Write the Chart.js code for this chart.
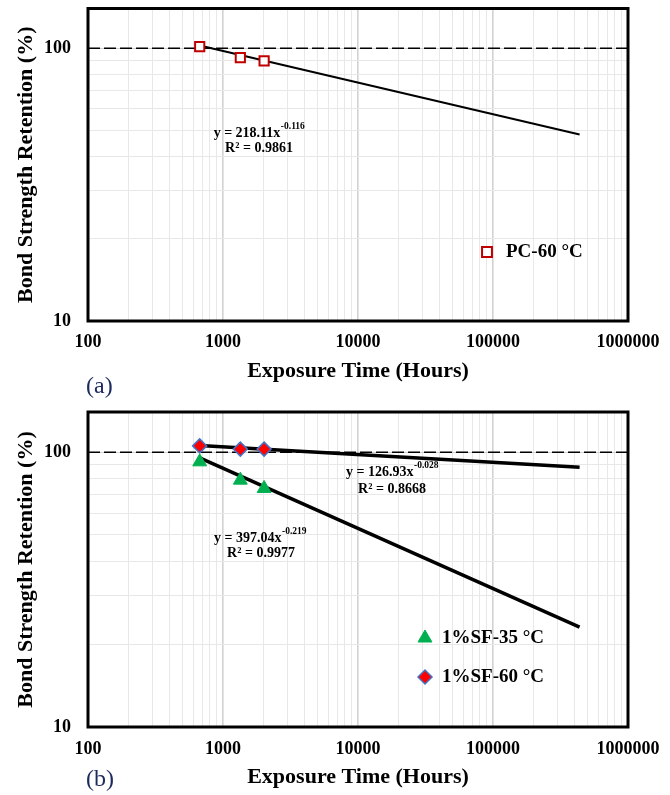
<!DOCTYPE html>
<html>
<head>
<meta charset="utf-8">
<script src="https://cdn.jsdelivr.net/npm/chart.js@4.4.1/dist/chart.umd.min.js"></script>
<style>
  html, body { margin: 0; padding: 0; background: #fff; }
  canvas { display: block; }
</style>
</head>
<body>
<canvas id="chart-a" width="670" height="400"></canvas>
<canvas id="chart-b" width="670" height="395"></canvas>
<script>
// values (hours of exposure, % retention)
const hours = [672, 1344, 2016];
const pc60 = [101.5, 92.4, 89.9];
const sf35 = [92.2, 79.1, 73.8];
const sf60 = [105.4, 102.6, 102.6];

// power-law trend lines: straight on log-log, so two end points each
const trendHours = [672, 438000];
const pc60Trend = [102.5, 48.3];
const sf35Trend = [95.4, 23.1];
const sf60Trend = [105.8, 88.2];

// 100 % reference line
const refHours = [100, 1000000];
const refLevel = [100, 100];

// tick labels
const xLabels = [100, 1000, 10000, 100000, 1000000];
const yLabels = [10, 100];

const SERIF = '"Liberation Serif", "Times New Roman", serif';
Chart.defaults.font.family = SERIF;
Chart.defaults.color = '#000';

// grid positions for a log axis: 1..9 in each decade
function logGrid(from, to) {
  const out = [];
  for (let d = from; d < to; d *= 10) {
    for (let k = 1; k < 10; k++) out.push(d * k);
  }
  out.push(to);
  return out;
}
const xGrid = logGrid(100, 1000000);
const yGrid = logGrid(10, 100);

const isMajor = v => xLabels.includes(v) || yLabels.includes(v);
const pts = (xs, ys) => xs.map((x, i) => ({ x, y: ys[i] }));

function drawEquation(ctx, cx, cy, main, sup) {
  ctx.font = 'bold 14px ' + SERIF;
  const w1 = ctx.measureText(main).width;
  ctx.font = 'bold 9.5px ' + SERIF;
  const w2 = sup ? ctx.measureText(sup).width : 0;
  const x0 = cx - (w1 + w2) / 2;
  ctx.textAlign = 'left';
  ctx.textBaseline = 'middle';
  ctx.fillStyle = '#000';
  ctx.font = 'bold 14px ' + SERIF;
  ctx.fillText(main, x0, cy);
  if (sup) {
    ctx.font = 'bold 9.5px ' + SERIF;
    ctx.fillText(sup, x0 + w1 + 0.5, cy - 6);
  }
}

function notesPlugin(cfg) {
  return {
    id: 'notes',
    afterDraw(chart) {
      const ctx = chart.ctx;
      const a = chart.chartArea;
      ctx.save();
      // plot frame
      ctx.strokeStyle = '#000';
      ctx.lineWidth = 3;
      ctx.strokeRect(a.left, a.top, a.right - a.left, a.bottom - a.top);
      // trend equations
      cfg.equations.forEach(e => drawEquation(ctx, e.x, e.y, e.main, e.sup));
      // legend inside the plot
      cfg.legend.forEach(l => {
        ctx.fillStyle = l.fill;
        ctx.strokeStyle = l.stroke;
        ctx.lineWidth = l.borderWidth;
        Chart.helpers.drawPoint(ctx, { pointStyle: l.style, radius: l.radius, rotation: 0, borderWidth: l.borderWidth }, l.x, l.y);
        ctx.fillStyle = '#000';
        ctx.font = 'bold 19px ' + SERIF;
        ctx.textAlign = 'left';
        ctx.textBaseline = 'middle';
        ctx.fillText(l.label, l.x + l.gap, l.y);
      });
      // panel letter
      ctx.fillStyle = '#1c2a5e';
      ctx.font = '24px ' + SERIF;
      ctx.textAlign = 'left';
      ctx.textBaseline = 'middle';
      ctx.fillText(cfg.letter, 86, cfg.letterY);
      ctx.restore();
    }
  };
}

function makeChart(id, cfg) {
  return new Chart(document.getElementById(id), {
    type: 'scatter',
    data: { datasets: cfg.datasets },
    options: {
      responsive: false,
      animation: false,
      layout: { padding: { top: cfg.top, right: 42, bottom: 0, left: 0 } },
      plugins: { legend: { display: false }, tooltip: { enabled: false } },
      scales: {
        x: {
          type: 'logarithmic', min: 100, max: 1000000,
          border: { display: false },
          afterBuildTicks: s => { s.ticks = xGrid.map(v => ({ value: v })); },
          afterFit: s => { s.height = cfg.xHeight; s.paddingLeft = 0; s.paddingRight = 0; },
          grid: {
            drawTicks: false,
            color: c => (c.tick && isMajor(c.tick.value)) ? '#d2d2d2' : '#e8e8e8',
            lineWidth: c => (c.tick && isMajor(c.tick.value)) ? 1.6 : 1
          },
          ticks: {
            autoSkip: false, maxRotation: 0, padding: cfg.xTickPad,
            font: { size: 18, weight: 'bold' },
            callback: v => xLabels.includes(v) ? String(v) : ''
          },
          title: {
            display: true, text: 'Exposure Time (Hours)',
            font: { size: 22, weight: 'bold' },
            padding: { top: 0, bottom: cfg.xTitlePad }
          }
        },
        y: {
          type: 'logarithmic', min: 10, max: 140,
          border: { display: false },
          afterBuildTicks: s => { s.ticks = yGrid.map(v => ({ value: v })); },
          afterFit: s => { s.width = 88; s.paddingTop = 0; s.paddingBottom = 0; },
          grid: {
            drawTicks: false,
            color: c => (c.tick && isMajor(c.tick.value)) ? '#d2d2d2' : '#e8e8e8',
            lineWidth: 1
          },
          ticks: {
            autoSkip: false, padding: 17,
            font: { size: 18, weight: 'bold' },
            callback: v => yLabels.includes(v) ? String(v) : ''
          },
          title: {
            display: true, text: 'Bond Strength Retention (%)',
            font: { size: 22, weight: 'bold' },
            padding: { top: 13, bottom: 0 }
          }
        }
      }
    },
    plugins: [notesPlugin(cfg)]
  });
}

const refSet = {
  data: pts(refHours, refLevel), showLine: true, borderColor: '#000',
  borderWidth: 1.5, borderDash: [12, 4], pointRadius: 0, order: 5
};

makeChart('chart-a', {
  top: 7, xHeight: 79, xTickPad: 11, xTitlePad: 15,
  letter: '(a)', letterY: 387,
  datasets: [
    { label: 'PC-60 °C', data: pts(hours, pc60), pointStyle: 'rect', pointRadius: 6.5,
      pointBackgroundColor: '#fff', pointBorderColor: '#c00000', pointBorderWidth: 2, order: 0 },
    { label: 'PC-60 trend', data: pts(trendHours, pc60Trend), showLine: true,
      borderColor: '#000', borderWidth: 2, pointRadius: 0, order: 2 },
    refSet
  ],
  equations: [
    { x: 259, y: 133, main: 'y = 218.11x', sup: '-0.116' },
    { x: 259, y: 148, main: 'R² = 0.9861' }
  ],
  legend: [
    { x: 487, y: 252, style: 'rect', radius: 7, fill: '#fff', stroke: '#c00000', borderWidth: 2, gap: 19, label: 'PC-60 °C' }
  ]
});

makeChart('chart-b', {
  top: 12, xHeight: 68, xTickPad: 12, xTitlePad: 4,
  letter: '(b)', letterY: 380,
  datasets: [
    { label: '1%SF-35 °C', data: pts(hours, sf35), pointStyle: 'triangle', pointRadius: 8,
      pointBackgroundColor: '#00b050', pointBorderColor: '#00b050', pointBorderWidth: 1, order: 0 },
    { label: '1%SF-60 °C', data: pts(hours, sf60), pointStyle: 'rectRot', pointRadius: 7,
      pointBackgroundColor: '#ff0000', pointBorderColor: '#4472c4', pointBorderWidth: 1.5, order: 0 },
    { label: 'SF-35 trend', data: pts(trendHours, sf35Trend), showLine: true,
      borderColor: '#000', borderWidth: 3.5, pointRadius: 0, order: 2 },
    { label: 'SF-60 trend', data: pts(trendHours, sf60Trend), showLine: true,
      borderColor: '#000', borderWidth: 3.5, pointRadius: 0, order: 2 },
    Object.assign({}, refSet)
  ],
  equations: [
    { x: 392, y: 72, main: 'y = 126.93x', sup: '-0.028' },
    { x: 392, y: 89, main: 'R² = 0.8668' },
    { x: 260, y: 138, main: 'y = 397.04x', sup: '-0.219' },
    { x: 261, y: 153, main: 'R² = 0.9977' }
  ],
  legend: [
    { x: 425, y: 238, style: 'triangle', radius: 8, fill: '#00b050', stroke: '#00b050', borderWidth: 1, gap: 17, label: '1%SF-35 °C' },
    { x: 425, y: 277, style: 'rectRot', radius: 7, fill: '#ff0000', stroke: '#4472c4', borderWidth: 1.5, gap: 17, label: '1%SF-60 °C' }
  ]
});
</script>
</body>
</html>
